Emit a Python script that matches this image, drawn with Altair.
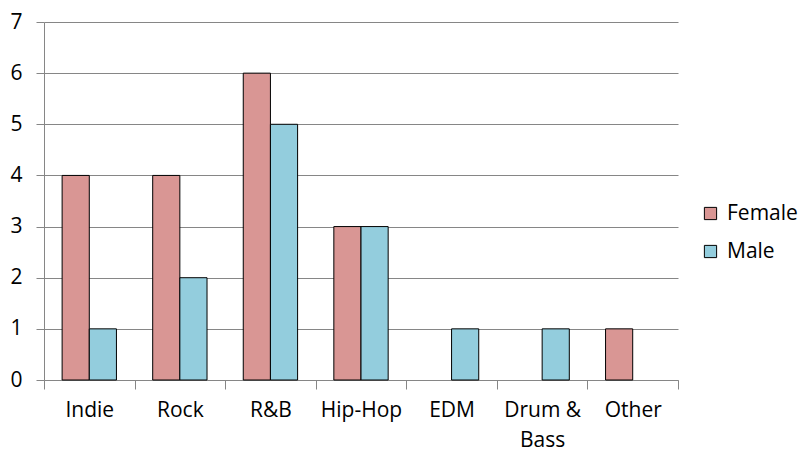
import altair as alt
import pandas as pd

genres = ["Indie", "Rock", "R&B", "Hip-Hop", "EDM", "Drum & Bass", "Other"]
female = [4, 4, 6, 3, 0, 0, 1]
male = [1, 2, 5, 3, 1, 1, 0]
series = ["Female", "Male"]
colors = ["#D99694", "#93CDDD"]

rows = []
for g, f, m in zip(genres, female, male):
    rows.append({"genre": g, "gender": "Female", "count": f})
    rows.append({"genre": g, "gender": "Male", "count": m})
df = pd.DataFrame(rows)
df = df[df["count"] > 0]

FONT = "Open Sans"
FS = 21

chart = alt.Chart(df).mark_bar(stroke="black", strokeWidth=1).encode(
    x=alt.X("genre:N", sort=genres, scale=alt.Scale(domain=genres, paddingInner=0, paddingOuter=0),
            axis=alt.Axis(title=None, labelAngle=0, tickBand="extent", domainColor="#868686",
                          tickColor="#868686", tickSize=9, labelPadding=10, labelFont=FONT,
                          labelFontSize=FS, labelColor="black", labelLineHeight=30,
                          labelBaseline="top",
                          labelExpr="datum.label == 'Drum & Bass' ? ['Drum &', 'Bass'] : datum.label",
                          grid=False)),
    xOffset=alt.XOffset("gender:N", scale=alt.Scale(domain=series, paddingInner=0, paddingOuter=0.667)),
    y=alt.Y("count:Q", scale=alt.Scale(domain=[0, 7], nice=False),
            axis=alt.Axis(title=None, values=[0, 1, 2, 3, 4, 5, 6, 7], domainColor="#868686",
                          tickColor="#868686", tickSize=8, gridColor="#868686", labelFont=FONT,
                          labelFontSize=FS, labelColor="black", labelPadding=14)),
    color=alt.Color("gender:N", scale=alt.Scale(domain=series, range=colors),
                    legend=alt.Legend(title=None, orient="none", legendX=656, legendY=181,
                                      symbolType="square", symbolSize=150, symbolStrokeColor="black",
                                      symbolStrokeWidth=1, labelFont=FONT, labelFontSize=FS,
                                      labelColor="black", rowPadding=16, labelOffset=6)),
).properties(
    width=634, height=358,
    autosize=alt.AutoSizeParams(type="none"),
    padding={"left": 36, "top": 14, "right": 122, "bottom": 76},
).configure_view(stroke=None).configure_axis(gridWidth=1, domainWidth=1, tickWidth=1)

chart.save("out.html", embed_options={"renderer": "svg", "actions": False})
